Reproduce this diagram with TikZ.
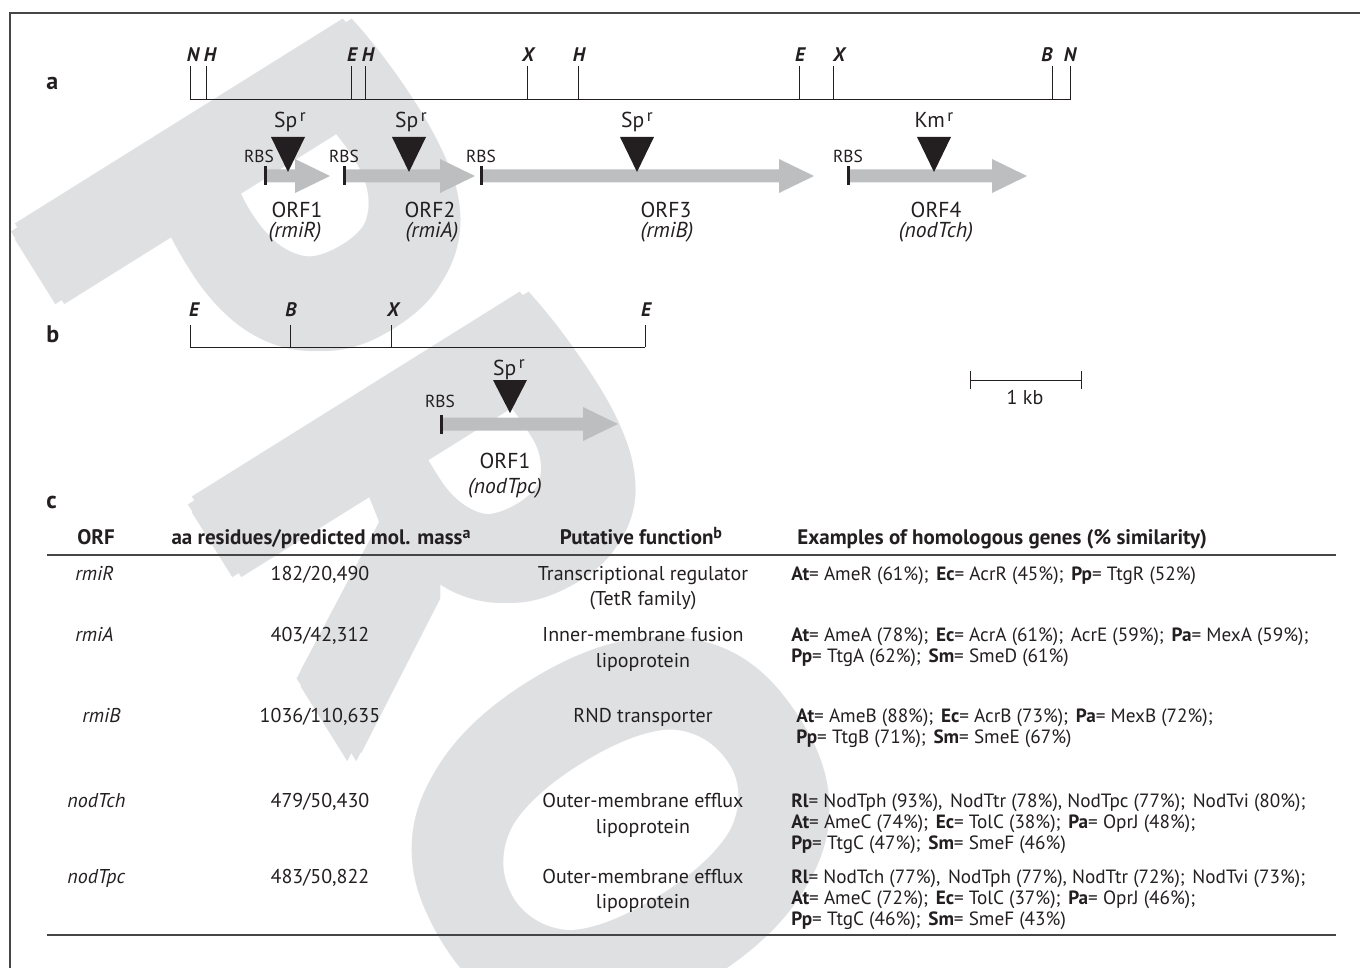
\documentclass[tikz,border=0pt]{standalone}
\usepackage{fontspec}
\setmainfont{PT Sans}
\definecolor{txt}{RGB}{35,31,32}
\definecolor{genegray}{RGB}{188,190,192}
\definecolor{wmgray}{RGB}{223,224,226}
\definecolor{rulegray}{RGB}{70,70,70}
\newcommand\genearrow[3]{%
  \fill[genegray] (#1,#3-6.5) -- (#2-35,#3-6.5) -- (#2-35,#3-17) -- (#2,#3) -- (#2-35,#3+17) -- (#2-35,#3+6.5) -- (#1,#3+6.5) -- cycle;
  \draw[rbsbar] (#1,#3-9.5) -- (#1,#3+9.5);}
\newcommand\insertmark[3]{%
  \fill[txt] (#1-17,#2) -- (#1+17,#2) -- (#1,#3) -- cycle;}
\newcommand\gp{\hspace{0.4em}}
\newcommand\resist[1]{#1\hspace{0.12em}\raisebox{0.62ex}{\fontsize{8.6}{8}\selectfont r}}
\newcommand\supnote[1]{\raisebox{0.55ex}{\fontsize{8}{8}\selectfont #1}}
\tikzset{
  wmletter/.style={font=\bfseries\fontsize{279}{279}\selectfont, text=wmgray, inner sep=0, rotate=-58},
  panel/.style={font=\bfseries\fontsize{12}{12}\selectfont, text=txt, inner sep=0, anchor=base west},
  site/.style={font=\bfseries\itshape\fontsize{9.8}{10}\selectfont, text=txt, inner sep=0, anchor=base},
  ruler/.style={draw=txt, line width=0.5pt},
  rbsbar/.style={draw=txt, line width=1.5pt},
  orf/.style={font=\fontsize{10.8}{12}\selectfont, text=txt, inner sep=0, anchor=base},
  rbs/.style={font=\fontsize{8.7}{10}\selectfont, text=txt, inner sep=0, anchor=base},
  tcell/.style={font=\fontsize{10}{12}\selectfont, text=txt, inner sep=0, anchor=base},
  tleft/.style={font=\fontsize{10}{12}\selectfont, text=txt, inner sep=0, anchor=base west},
  thead/.style={font=\bfseries\fontsize{10.5}{12}\selectfont, text=txt, inner sep=0, anchor=base},
  hom/.style={font=\fontsize{9.6}{12}\selectfont, text=txt, inner sep=0, anchor=base west},
  trule/.style={draw=rulegray, line width=0.75pt},
  frame/.style={draw=rulegray, line width=0.8pt},
}
\begin{document}
\begin{tikzpicture}[x=0.5pt,y=-0.5pt]
\useasboundingbox (0,0) rectangle (1360,968);
% watermark (heavy letters: each drawn with a small ring of copies)
\node[wmletter, anchor=base west] (wP) at (2,203) {P};
\node[wmletter, anchor=base west] (wR) at (179,476) {R};
\node[wmletter, anchor=center] (wO) at (621,830) {O};
\foreach \a in {0,60,...,300}{
  \node[wmletter, anchor=base west] (wP\a) at ([shift={(\a:9)}]2,203) {P};
  \node[wmletter, anchor=base west] (wR\a) at ([shift={(\a:9)}]179,476) {R};
  \node[wmletter, anchor=center] (wO\a) at ([shift={(\a:9)}]621,830) {O};
}
% frame
\draw[frame] (10,968) -- (10,13) -- (1360,13);
% panel labels
\node[panel] (la) at (46,90) {a};
\node[panel] (lb) at (46,343) {b};
\node[panel] (lc) at (46,508) {c};
% ruler a
\draw[ruler] (190,100) -- (1070,100);
\foreach \t in {190,206,351,365,527,578,799,833,1052,1070}
  \draw[ruler] (\t,100) -- (\t,66);
\node[site] (sN1) at (193,62) {N};
\node[site] (sH1) at (210,62) {H};
\node[site] (sE1) at (352,62) {E};
\node[site] (sH2) at (368,62) {H};
\node[site] (sX1) at (528,62) {X};
\node[site] (sH3) at (579,62) {H};
\node[site] (sE2) at (800,62) {E};
\node[site] (sX2) at (839,62) {X};
\node[site] (sB1) at (1047,62) {B};
\node[site] (sN2) at (1070,62) {N};
% genes a
\genearrow{265}{330}{176}
\genearrow{344}{475}{176}
\genearrow{481}{814}{176}
\genearrow{848}{1027}{176}
\insertmark{288}{137}{172}
\insertmark{409}{137}{172}
\insertmark{637}{137}{172}
\insertmark{934}{137}{172}
\node[orf] (sp1) at (290,128) {\resist{Sp}};
\node[orf] (sp2) at (411,128) {\resist{Sp}};
\node[orf] (sp3) at (637,128) {\resist{Sp}};
\node[orf] (km4) at (934,128) {\resist{Km}};
\node[rbs] (r1) at (259,163) {RBS};
\node[rbs] (r2) at (344,163) {RBS};
\node[rbs] (r3) at (481,163) {RBS};
\node[rbs] (r4) at (848,163) {RBS};
\node[orf] (o1) at (297,218) {ORF1};
\node[orf] (g1) at (295,238) {\itshape (rmiR)};
\node[orf] (o2) at (430,218) {ORF2};
\node[orf] (g2) at (432,238) {\itshape (rmiA)};
\node[orf] (o3) at (666,218) {ORF3};
\node[orf] (g3) at (667,238) {\itshape (rmiB)};
\node[orf] (o4) at (936,218) {ORF4};
\node[orf] (g4) at (936,238) {\itshape (nodTch)};
% ruler b
\draw[ruler] (190,347) -- (645,347);
\foreach \t in {190,290,391,645}
  \draw[ruler] (\t,347) -- (\t,325);
\node[site] (bE1) at (194,316) {E};
\node[site] (bB) at (291,316) {B};
\node[site] (bX) at (393,316) {X};
\node[site] (bE2) at (646,316) {E};
\genearrow{441}{618}{424}
\insertmark{510}{380}{413}
\node[orf] (spb) at (509,375) {\resist{Sp}};
\node[rbs] (rb) at (440,407) {RBS};
\node[orf] (ob) at (505,468) {ORF1};
\node[orf] (gb) at (505,493) {\itshape (nodTpc)};
% scale bar
\draw[ruler] (970,380) -- (1081,380);
\draw[ruler] (970,371) -- (970,389);
\draw[ruler] (1081,371) -- (1081,389);
\node[tcell] (kb) at (1025,404) {1 kb};
% table
\node[thead] (h1) at (96,544) {ORF};
\node[thead] (h2) at (321,544) {aa residues/predicted mol. mass\supnote{a}};
\node[thead] (h3) at (641,544) {Putative function\supnote{b}};
\node[thead, anchor=base west] (h4) at (797,544) {Examples of homologous genes (\% similarity)};
\draw[trule] (47,555) -- (1336,555);
\draw[trule] (47,935) -- (1336,935);
% row rmiR
\node[tleft] (c11) at (75,580) {\itshape rmiR};
\node[tcell] (c12) at (320,580) {182/20,490};
\node[tcell] (c13a) at (643,580) {Transcriptional regulator};
\node[tcell] (c13b) at (643,605) {(TetR family)};
\node[hom] (c14a) at (791,580) {\textbf{At}= AmeR (61\%);\gp\textbf{Ec}= AcrR (45\%);\gp\textbf{Pp}= TtgR (52\%)};
% row rmiA
\node[tleft] (c21) at (75,641) {\itshape rmiA};
\node[tcell] (c22) at (320,641) {403/42,312};
\node[tcell] (c23a) at (643,641) {Inner-membrane fusion};
\node[tcell] (c23b) at (643,667) {lipoprotein};
\node[hom] (c24a) at (791,641) {\textbf{At}= AmeA (78\%);\gp\textbf{Ec}= AcrA (61\%);\gp AcrE (59\%);\gp\textbf{Pa}= MexA (59\%);};
\node[hom] (c24b) at (791,662) {\textbf{Pp}= TtgA (62\%);\gp\textbf{Sm}= SmeD (61\%)};
% row rmiB
\node[tleft] (c31) at (82,722) {\itshape rmiB};
\node[tcell] (c32) at (320,722) {1036/110,635};
\node[tcell] (c33a) at (643,722) {RND transporter};
\node[hom] (c34a) at (796,722) {\textbf{At}= AmeB (88\%);\gp\textbf{Ec}= AcrB (73\%);\gp\textbf{Pa}= MexB (72\%);};
\node[hom] (c34b) at (796,743) {\textbf{Pp}= TtgB (71\%);\gp\textbf{Sm}= SmeE (67\%)};
% row nodTch
\node[tleft] (c41) at (67,807) {\itshape nodTch};
\node[tcell] (c42) at (320,807) {479/50,430};
\node[tcell] (c43a) at (643,807) {Outer-membrane efflux};
\node[tcell] (c43b) at (643,833) {lipoprotein};
\node[hom] (c44a) at (791,807) {\textbf{Rl}= NodTph (93\%),\gp NodTtr (78\%), NodTpc (77\%);\gp NodTvi (80\%);};
\node[hom] (c44b) at (791,828) {\textbf{At}= AmeC (74\%);\gp\textbf{Ec}= TolC (38\%);\gp\textbf{Pa}= OprJ (48\%);};
\node[hom] (c44c) at (791,849) {\textbf{Pp}= TtgC (47\%);\gp\textbf{Sm}= SmeF (46\%)};
% row nodTpc
\node[tleft] (c51) at (67,883) {\itshape nodTpc};
\node[tcell] (c52) at (320,883) {483/50,822};
\node[tcell] (c53a) at (643,883) {Outer-membrane efflux};
\node[tcell] (c53b) at (643,908) {lipoprotein};
\node[hom] (c54a) at (791,883) {\textbf{Rl}= NodTch (77\%),\gp NodTph (77\%), NodTtr (72\%);\gp NodTvi (73\%);};
\node[hom] (c54b) at (791,904) {\textbf{At}= AmeC (72\%);\gp\textbf{Ec}= TolC (37\%);\gp\textbf{Pa}= OprJ (46\%);};
\node[hom] (c54c) at (791,925) {\textbf{Pp}= TtgC (46\%);\gp\textbf{Sm}= SmeF (43\%)};
\end{tikzpicture}
\end{document}
